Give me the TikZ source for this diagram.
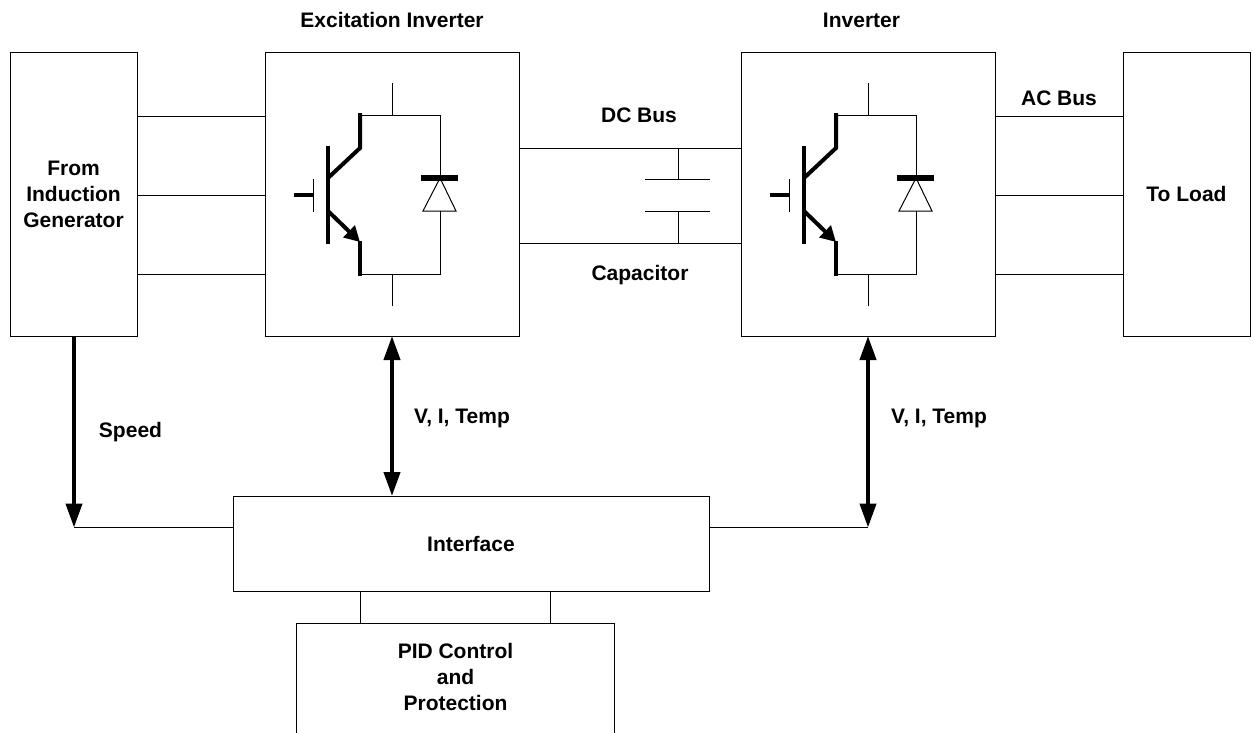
\documentclass[tikz,border=0pt]{standalone}
\usepackage{fontspec}
\setmainfont{Liberation Sans}
\usetikzlibrary{arrows.meta, positioning}
\tikzset{
    block/.style={draw, line width=0.75pt, inner sep=0pt, outer sep=0pt, font=\fontsize{15.75}{19.5}\selectfont\bfseries, align=center},
    tag/.style={inner sep=0pt, font=\fontsize{15.75}{19.5}\selectfont\bfseries, align=center},
    wire/.style={line width=0.75pt},
    thick wire/.style={line width=3pt},
    signal/.style={line width=3pt, -{Triangle[length=18pt, width=12pt]}},
    both signal/.style={line width=3pt, {Triangle[length=18pt, width=12pt]}-{Triangle[length=18pt, width=12pt]}},
    igbt/.pic={
        % Collector and emitter stubs with freewheel path
        \draw[wire] (0,-111) -- (0,-79);
        \draw[wire] (0,112) -- (0,80);
        \draw[wire] (-32,-79) -- (48,-79) -- (48,-16);
        \draw[wire] (-32,80) -- (48,80) -- (48,17);
        % Diode
        \draw[wire] (48,-16) -- (31,17) -- (64,17) -- cycle;
        \draw[line width=4pt] (29,-16) -- (66,-16);
        % Transistor
        \draw[thick wire] (-64,-48) -- (-64,50);
        \draw[thick wire, line join=miter] (-32,-81) -- (-32,-46) -- (-64,-16);
        \draw[thick wire, -{Triangle[length=11.5pt, width=12pt]}] (-64,17) -- (-32,48);
        \draw[thick wire] (-32,47) -- (-32,82);
        % Gate
        \draw[wire] (-79,-15) -- (-79,18);
        \draw[thick wire] (-98,1) -- (-78,1);
    }
}
\begin{document}
\begin{tikzpicture}[x=0.75pt, y=-0.75pt]
    \useasboundingbox (0,0) rectangle (1255,732);
    % Main blocks
    \node[block, minimum width=95.25pt, minimum height=213pt] (gen) at (73.5,194) {From\\Induction\\Generator};
    \node[block, minimum width=190.5pt, minimum height=213pt] (exc) at (392,194) {};
    \node[block, minimum width=190.5pt, minimum height=213pt] (inv) at (868,194) {};
    \node[block, minimum width=95.25pt, minimum height=213pt] (load) at (1186.5,194) {To Load};
    \node[block, minimum width=357pt, minimum height=71.25pt] (iface) at (471,543.5) {Interface};
    \node[block, minimum width=238.5pt, minimum height=120pt] (pid) at (455,703) {};
    \node[tag] (pidtext) at (455.5,677) {PID Control\\and\\Protection};

    % Switches inside the inverters
    \pic at (exc.center) {igbt};
    \pic at (inv.center) {igbt};

    % Labels
    \node[tag] (exclabel) at (392,20) {Excitation Inverter};
    \node[tag] (invlabel) at (861.5,20) {Inverter};
    \node[tag] (dclabel) at (639,115) {DC Bus};
    \node[tag] (caplabel) at (640,275) {Capacitor};
    \node[tag] (aclabel) at (1059,98) {AC Bus};
    \node[tag] (speedlabel) at (130.5,432) {Speed};
    \node[tag] (vit1) at (462,418) {V, I, Temp};
    \node[tag] (vit2) at (939,418) {V, I, Temp};

    % Three phase wires
    \coordinate (ph1) at (0,116);
    \coordinate (ph2) at (0,195);
    \coordinate (ph3) at (0,274);
    \draw[wire] (gen.east |- ph1) -- (exc.west |- ph1);
    \draw[wire] (gen.east |- ph2) -- (exc.west |- ph2);
    \draw[wire] (gen.east |- ph3) -- (exc.west |- ph3);
    \draw[wire] (inv.east |- ph1) -- (load.west |- ph1);
    \draw[wire] (inv.east |- ph2) -- (load.west |- ph2);
    \draw[wire] (inv.east |- ph3) -- (load.west |- ph3);

    % DC bus with capacitor
    \coordinate (dcp) at (0,148);
    \coordinate (dcn) at (0,243);
    \coordinate (capx) at (678,0);
    \draw[wire] (exc.east |- dcp) -- (inv.west |- dcp);
    \draw[wire] (exc.east |- dcn) -- (inv.west |- dcn);
    \draw[wire] (capx |- dcp) -- ++(0,31) coordinate (plate1);
    \draw[wire] (capx |- dcn) -- ++(0,-32) coordinate (plate2);
    \draw[wire] ([xshift=-24.75pt]plate1) -- ([xshift=24pt]plate1);
    \draw[wire] ([xshift=-24.75pt]plate2) -- ([xshift=24pt]plate2);

    % Signals to the interface
    \coordinate (speedin) at (74,527.5);
    \coordinate (invin) at (868,527.5);
    \draw[signal] (speedin |- gen.south) -- (speedin);
    \draw[wire] (speedin) -- (iface.west |- speedin);
    \draw[both signal] (exc.south) -- (exc.south |- iface.north);
    \draw[both signal] (inv.south) -- (invin);
    \draw[wire] (invin) -- (iface.east |- invin);

    % Interface to control
    \draw[wire] (360,591) -- (360,623);
    \draw[wire] (550,591) -- (550,623);
\end{tikzpicture}
\end{document}
